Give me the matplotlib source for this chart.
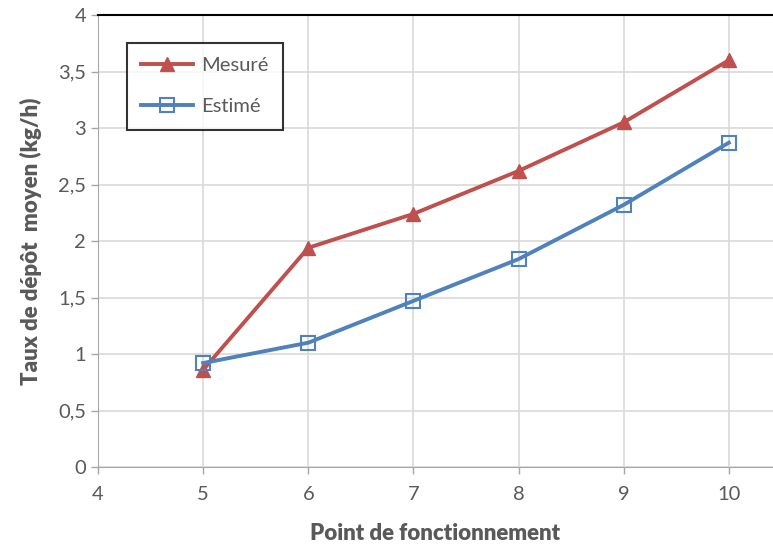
import numpy as np
import matplotlib.pyplot as plt
from matplotlib.ticker import FuncFormatter

# data
points = [5, 6, 7, 8, 9, 10]
mesure = [0.86, 1.94, 2.24, 2.62, 3.05, 3.60]
estime = [0.92, 1.10, 1.47, 1.84, 2.32, 2.87]

plt.rcParams['font.family'] = ['Lato', 'DejaVu Sans']
txt = '#595959'
grid = '#d9d9d9'

fig = plt.figure(figsize=(7.73, 5.52), dpi=100)
ax = fig.add_axes([98/773, 85/552, 675/773, 452/552])

ax.plot(points, mesure, color='#C0504D', lw=2.8, marker='^', ms=10,
        mfc='#C0504D', mec='#C0504D', label='Mesuré', zorder=3)
ax.plot(points, estime, color='#4F81BD', lw=2.8, marker='s', ms=10,
        mfc='none', mec='#4F81BD', mew=1.5, label='Estimé', zorder=3)

ax.set_xlim(4, 10.42)
ax.set_ylim(0, 4)
ax.set_xticks(range(4, 11))
ax.set_yticks(np.arange(0, 4.01, 0.5))
ax.yaxis.set_major_formatter(FuncFormatter(lambda v, p: f'{v:g}'.replace('.', ',')))
ax.grid(True, color=grid, lw=1.2)
ax.set_axisbelow(True)

ax.spines['right'].set_visible(False)
ax.spines['top'].set_color('black')
ax.spines['top'].set_linewidth(1.5)
ax.spines['left'].set_color('#a6a6a6')
ax.spines['bottom'].set_color('#a6a6a6')
ax.tick_params(colors='#a6a6a6', labelcolor=txt, labelsize=14.5, length=5, width=1)
ax.tick_params(axis='x', pad=9)

ax.set_xlabel('Point de fonctionnement', fontsize=16, fontweight='heavy', color=txt, labelpad=14)
ax.set_ylabel('Taux de dépôt  moyen (kg/h)', fontsize=16, fontweight='heavy', color=txt, labelpad=12)

leg = ax.legend(loc='upper left', bbox_to_anchor=(0.043, 0.938), fontsize=14.5,
                frameon=True, fancybox=False, edgecolor='black',
                labelspacing=1.2, handlelength=2.6, handletextpad=0.4,
                borderpad=0.7, borderaxespad=0)
leg.get_frame().set_linewidth(1.5)
for t in leg.get_texts():
    t.set_color(txt)

fig.savefig('out.png', dpi=100)
